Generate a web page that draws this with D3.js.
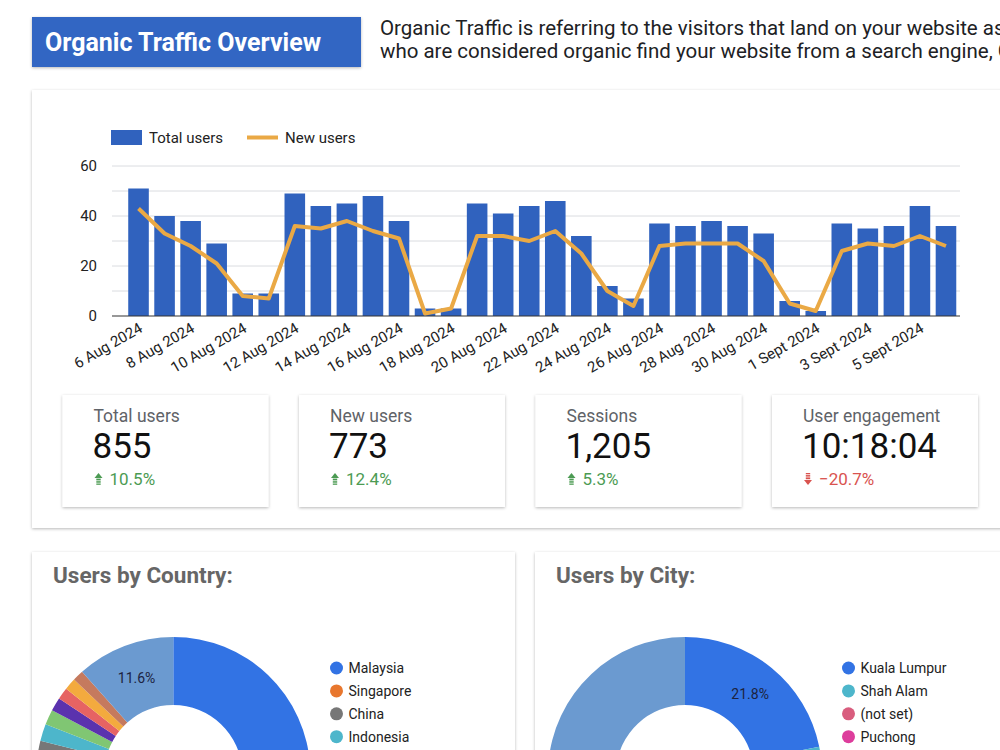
<!DOCTYPE html>
<html>
<head>
<meta charset="utf-8">
<script src="https://cdn.jsdelivr.net/npm/d3@7"></script>
<style>
  html, body { margin: 0; padding: 0; background: #fff; }
  svg { display: block; font-family: Roboto, "Noto Sans", sans-serif; }
</style>
</head>
<body>
<div id="chart"></div>
<script>
// daily organic traffic, 6 Aug - 6 Sept 2024
const dates = [
  "6 Aug 2024", "7 Aug 2024", "8 Aug 2024", "9 Aug 2024", "10 Aug 2024", "11 Aug 2024",
  "12 Aug 2024", "13 Aug 2024", "14 Aug 2024", "15 Aug 2024", "16 Aug 2024", "17 Aug 2024",
  "18 Aug 2024", "19 Aug 2024", "20 Aug 2024", "21 Aug 2024", "22 Aug 2024", "23 Aug 2024",
  "24 Aug 2024", "25 Aug 2024", "26 Aug 2024", "27 Aug 2024", "28 Aug 2024", "29 Aug 2024",
  "30 Aug 2024", "31 Aug 2024", "1 Sept 2024", "2 Sept 2024", "3 Sept 2024", "4 Sept 2024",
  "5 Sept 2024", "6 Sept 2024"
]
const totalUsers = [51, 40, 38, 29, 9, 9, 49, 44, 45, 48, 38, 3, 3, 45, 41, 44, 46, 32, 12, 7, 37, 36, 38, 36, 33, 6, 2, 37, 35, 36, 44, 36]
const newUsers = [43, 33, 28, 21, 8, 7, 36, 35, 38, 34, 31, 1, 3, 32, 32, 30, 34, 25, 10, 4, 28, 29, 29, 29, 22, 5, 2, 26, 29, 28, 32, 28]
const yTicks = [0, 20, 40, 60]

const kpiNames = ["Total users", "New users", "Sessions", "User engagement"]
const kpiValues = ["855", "773", "1,205", "10:18:04"]
const kpiChanges = [10.5, 12.4, 5.3, -20.7]

const countryNames = ["Malaysia", "Singapore", "China", "Indonesia", "United States", "India", "Philippines", "Thailand", "Australia", "others"]
const countryShares = [72.9, 3.6, 2.4, 2.0, 1.8, 1.6, 1.4, 1.4, 1.3, 11.6]
const countryColors = ["#3273e4", "#e8772e", "#777777", "#4db6cb", "#80c673", "#5b32ae", "#e66363", "#f3aa3e", "#c57a5e", "#6b9ad0"]

const cityNames = ["Kuala Lumpur", "Shah Alam", "(not set)", "Puchong", "Petaling Jaya", "Subang Jaya", "Klang", "Kajang", "Cyberjaya", "Johor Bahru", "others"]
const cityShares = [21.8, 8.1, 5.6, 4.2, 3.1, 2.5, 2.0, 1.7, 1.6, 1.4, 48.0]
const cityColors = ["#3273e4", "#4db6cb", "#d95d7e", "#dd3d9c", "#f3aa3e", "#80c673", "#5b32ae", "#e8772e", "#777777", "#c57a5e", "#6b9ad0"]

const W = 1000, H = 750
const svg = d3.select("#chart").append("svg")
  .attr("width", W).attr("height", H)
  .attr("viewBox", `0 0 ${W} ${H}`)

const defs = svg.append("defs")
const shadow = defs.append("filter").attr("id", "shadow")
  .attr("x", "-5%").attr("y", "-5%").attr("width", "110%").attr("height", "115%")
shadow.append("feDropShadow")
  .attr("dx", 0).attr("dy", 1).attr("stdDeviation", 1.4)
  .attr("flood-color", "#000").attr("flood-opacity", 0.28)

// Header
svg.append("rect")
  .attr("x", 32).attr("y", 17).attr("width", 329).attr("height", 50)
  .attr("fill", "#3366c3").attr("filter", "url(#shadow)")
svg.append("text")
  .attr("x", 45).attr("y", 51)
  .attr("fill", "#fff").attr("font-size", "25px").attr("font-weight", "bold")
  .text("Organic Traffic Overview")

// description runs past the right edge, as in the dashboard
const desc = [
  "Organic Traffic is referring to the visitors that land on your website as a",
  "who are considered organic find your website from a search engine, Google"
]
desc.forEach((line, i) => {
  svg.append("text")
    .attr("x", 380).attr("y", 35 + i * 23)
    .attr("fill", "#202124").attr("font-size", "20.5px")
    .text(line)
})

// Main card
svg.append("rect")
  .attr("x", 32).attr("y", 90).attr("width", 990).attr("height", 438)
  .attr("fill", "#fff").attr("filter", "url(#shadow)")

const x = d3.scaleBand()
  .domain(dates)
  .range([125.5, 959])
  .paddingInner(0.21)
  .paddingOuter(0.105)

const y = d3.scaleLinear().domain([0, 60]).range([316, 166])

// grid
const grid = svg.append("g")
d3.range(10, 61, 10).forEach(v => {
  grid.append("line")
    .attr("x1", 112).attr("x2", 960)
    .attr("y1", y(v)).attr("y2", y(v))
    .attr("stroke", "#dadce0").attr("stroke-width", 1)
})

const yAxis = svg.append("g")
  .attr("transform", "translate(112,0)")
  .call(d3.axisLeft(y).tickValues(yTicks).tickSize(0).tickPadding(15))
yAxis.select(".domain").remove()
yAxis.selectAll("text")
  .attr("font-size", "15px").attr("fill", "#222").attr("font-family", "Roboto")

// bars
svg.append("g").selectAll("rect")
  .data(totalUsers)
  .join("rect")
  .attr("x", (d, i) => x(dates[i]))
  .attr("y", d => y(d))
  .attr("width", x.bandwidth())
  .attr("height", d => y(0) - y(d))
  .attr("fill", "#3062be")

// baseline
svg.append("line")
  .attr("x1", 112).attr("x2", 960)
  .attr("y1", y(0)).attr("y2", y(0))
  .attr("stroke", "#333").attr("stroke-width", 1.2)

// new users line
const line = d3.line()
  .x((d, i) => x(dates[i]) + x.bandwidth() / 2)
  .y(d => y(d))
svg.append("path")
  .datum(newUsers)
  .attr("d", line)
  .attr("fill", "none")
  .attr("stroke", "#eaa945")
  .attr("stroke-width", 4)
  .attr("stroke-linejoin", "round")

// x labels, every other day
const xAxis = svg.append("g")
  .attr("transform", `translate(0,${y(0)})`)
  .call(d3.axisBottom(x).tickValues(dates.filter((d, i) => i % 2 === 0)).tickSize(0).tickPadding(0))
xAxis.select(".domain").remove()
xAxis.selectAll("text")
  .attr("font-size", "15px").attr("fill", "#222").attr("font-family", "Roboto")
  .attr("text-anchor", "end")
  .attr("dy", 0)
  .attr("transform", "translate(5,15) rotate(-30)")

// legend
const lg = svg.append("g").attr("transform", "translate(111,130)")
lg.append("rect").attr("width", 31).attr("height", 15).attr("fill", "#3062be")
lg.append("text").attr("x", 38).attr("y", 12.5).attr("font-size", "15px").attr("fill", "#222").text("Total users")
lg.append("line").attr("x1", 136).attr("x2", 167).attr("y1", 7.5).attr("y2", 7.5)
  .attr("stroke", "#eaa945").attr("stroke-width", 4)
lg.append("text").attr("x", 174).attr("y", 12.5).attr("font-size", "15px").attr("fill", "#222").text("New users")

// KPI cards
const kpiX = d3.scalePoint().domain(kpiNames).range([62.5, 772])
kpiNames.forEach((name, i) => {
  const g = svg.append("g").attr("transform", `translate(${kpiX(name)},395)`)
  g.append("rect").attr("width", 206).attr("height", 112)
    .attr("fill", "#fff").attr("filter", "url(#shadow)")
  g.append("text").attr("x", 31).attr("y", 27)
    .attr("font-size", "17.5px").attr("fill", "#5f6368").text(name)
  g.append("text").attr("x", 30).attr("y", 63)
    .attr("font-size", "35px").attr("fill", "#111").text(kpiValues[i])
  const up = kpiChanges[i] >= 0
  const col = up ? "#4c9b53" : "#d9534f"
  const ic = g.append("g").attr("transform", "translate(36,85)").attr("fill", col)
  if (up) {
    ic.append("path").attr("d", "M0,-7 L4,-2 L-4,-2 Z")
    ic.append("rect").attr("x", -2.2).attr("y", -1.4).attr("width", 4.4).attr("height", 1.8)
    ic.append("rect").attr("x", -2.2).attr("y", 1.2).attr("width", 4.4).attr("height", 1.5)
    ic.append("rect").attr("x", -2.2).attr("y", 3.5).attr("width", 4.4).attr("height", 1.3)
  } else {
    ic.append("rect").attr("x", -2.2).attr("y", -7).attr("width", 4.4).attr("height", 1.3)
    ic.append("rect").attr("x", -2.2).attr("y", -4.9).attr("width", 4.4).attr("height", 1.5)
    ic.append("rect").attr("x", -2.2).attr("y", -2.6).attr("width", 4.4).attr("height", 1.8)
    ic.append("path").attr("d", "M0,5 L4,0 L-4,0 Z")
  }
  g.append("text").attr("x", 47).attr("y", 90)
    .attr("font-size", "17px").attr("fill", col)
    .text(d3.format(".1f")(kpiChanges[i]) + "%")
})

// donut cards
function donutCard(left, width, title, names, shares, colors, cx, legendX) {
  svg.append("rect")
    .attr("x", left).attr("y", 552).attr("width", width).attr("height", 240)
    .attr("fill", "#fff").attr("filter", "url(#shadow)")
  svg.append("text")
    .attr("x", left + 21).attr("y", 583)
    .attr("font-size", "22.5px").attr("font-weight", "bold").attr("fill", "#666")
    .text(title)

  const cy = 774
  const outer = 137, inner = 69
  const pie = d3.pie().sort(null).value(d => d)
  const arcs = pie(shares)
  const arc = d3.arc().innerRadius(inner).outerRadius(outer)
  const lab = d3.arc().innerRadius((inner + outer) / 2).outerRadius((inner + outer) / 2)
  const g = svg.append("g").attr("transform", `translate(${cx},${cy})`)
  g.selectAll("path").data(arcs).join("path")
    .attr("d", arc)
    .attr("fill", (d, i) => colors[i])
  g.selectAll("text").data(arcs.filter(d => d.data >= 10))
    .join("text")
    .attr("transform", d => `translate(${lab.centroid(d)})`)
    .attr("text-anchor", "middle").attr("dy", "0.35em")
    .attr("font-size", "14px").attr("fill", "#1c2340")
    .text(d => d3.format(".1f")(d.data) + "%")

  const lgd = svg.append("g").attr("transform", `translate(${legendX},668)`)
  names.forEach((n, i) => {
    const row = lgd.append("g").attr("transform", `translate(0,${i * 22.9})`)
    row.append("circle").attr("r", 6.5).attr("fill", colors[i])
    row.append("text").attr("x", 12).attr("dy", "0.35em")
      .attr("font-size", "14px").attr("fill", "#222").text(n)
  })
}

donutCard(32, 483, "Users by Country:", countryNames, countryShares, countryColors, 173.3, 336.5)
donutCard(535, 490, "Users by City:", cityNames, cityShares, cityColors, 685, 848.5)
</script>
</body>
</html>
